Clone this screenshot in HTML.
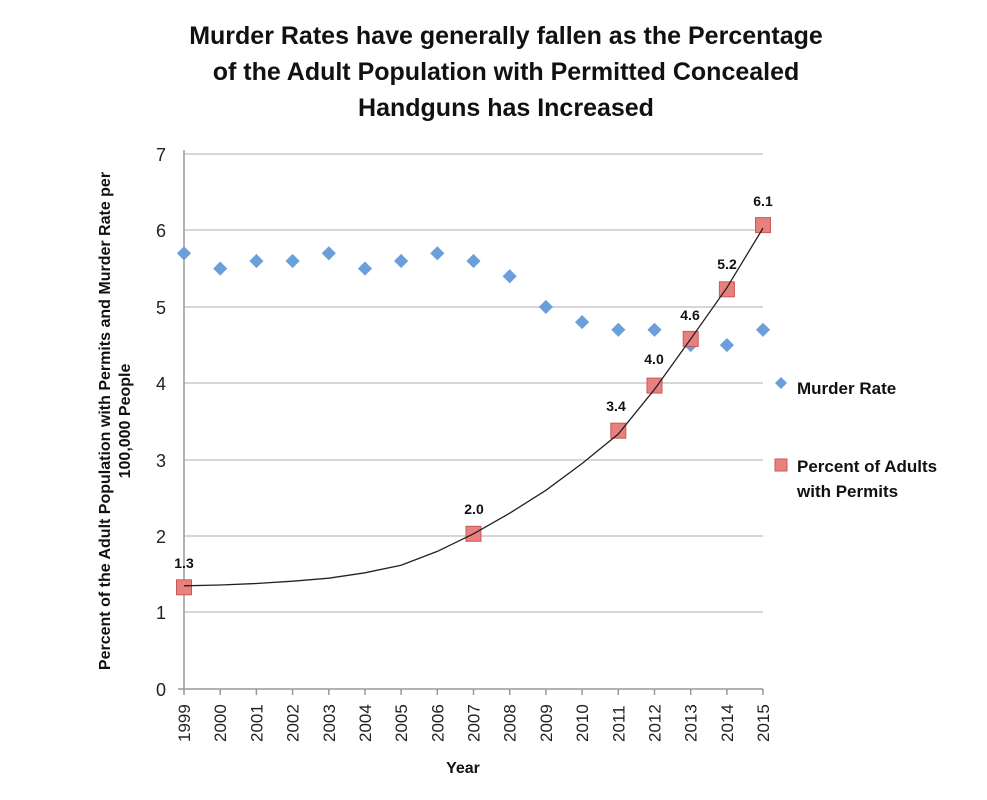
<!DOCTYPE html>
<html><head><style>body{margin:0;background:#fff}svg{display:block}</style></head><body>
<svg width="987" height="800" xmlns="http://www.w3.org/2000/svg" font-family="Liberation Sans, sans-serif">
<defs><rect id="dm" x="-5" y="-5" width="10" height="10" transform="rotate(45)" fill="#6a9fdb"/>
<rect id="sq" x="-7.5" y="-7.5" width="15" height="15" fill="#e8817e" stroke="#c85a58" stroke-width="1"/></defs>
<g font-weight="bold" font-size="25" text-anchor="middle" fill="#111">
<text x="506" y="44">Murder Rates have generally fallen as the Percentage</text>
<text x="506" y="80">of the Adult Population with Permitted Concealed</text>
<text x="506" y="116">Handguns has Increased</text>
</g>
<g stroke="#c8c8c8" stroke-width="1.5">
<line x1="184" y1="154" x2="763" y2="154"/><line x1="184" y1="230" x2="763" y2="230"/>
<line x1="184" y1="307" x2="763" y2="307"/><line x1="184" y1="383" x2="763" y2="383"/>
<line x1="184" y1="460" x2="763" y2="460"/><line x1="184" y1="536" x2="763" y2="536"/>
<line x1="184" y1="612" x2="763" y2="612"/>
</g>
<g stroke="#999" stroke-width="1.5">
<line x1="184" y1="150" x2="184" y2="695"/><line x1="178" y1="689" x2="763" y2="689"/>
<path d="M220.2 689v6M256.4 689v6M292.6 689v6M328.8 689v6M365 689v6M401.1 689v6M437.3 689v6M473.5 689v6M509.7 689v6M545.9 689v6M582.1 689v6M618.3 689v6M654.5 689v6M690.7 689v6M726.9 689v6M763 689v6"/>
</g>
<g font-size="18" fill="#222" text-anchor="end">
<text x="166" y="161">7</text><text x="166" y="237">6</text><text x="166" y="314">5</text>
<text x="166" y="390">4</text><text x="166" y="467">3</text><text x="166" y="543">2</text>
<text x="166" y="619">1</text><text x="166" y="696">0</text>
</g>
<g font-size="17" fill="#222">
<text transform="translate(190,742) rotate(-90)">1999</text>
<text transform="translate(226.2,742) rotate(-90)">2000</text>
<text transform="translate(262.4,742) rotate(-90)">2001</text>
<text transform="translate(298.6,742) rotate(-90)">2002</text>
<text transform="translate(334.8,742) rotate(-90)">2003</text>
<text transform="translate(371,742) rotate(-90)">2004</text>
<text transform="translate(407.1,742) rotate(-90)">2005</text>
<text transform="translate(443.3,742) rotate(-90)">2006</text>
<text transform="translate(479.5,742) rotate(-90)">2007</text>
<text transform="translate(515.7,742) rotate(-90)">2008</text>
<text transform="translate(551.9,742) rotate(-90)">2009</text>
<text transform="translate(588.1,742) rotate(-90)">2010</text>
<text transform="translate(624.3,742) rotate(-90)">2011</text>
<text transform="translate(660.5,742) rotate(-90)">2012</text>
<text transform="translate(696.7,742) rotate(-90)">2013</text>
<text transform="translate(732.9,742) rotate(-90)">2014</text>
<text transform="translate(769,742) rotate(-90)">2015</text>
</g>
<text x="463" y="773" font-size="16" font-weight="bold" text-anchor="middle" fill="#111">Year</text>
<g font-size="16" font-weight="bold" fill="#111" text-anchor="middle">
<text transform="translate(110,421) rotate(-90)">Percent of the Adult Population with Permits and Murder Rate per</text>
<text transform="translate(130,421) rotate(-90)">100,000 People</text>
</g>
<use href="#dm" x="184" y="253.3"/><use href="#dm" x="220.2" y="268.6"/><use href="#dm" x="256.4" y="261"/>
<use href="#dm" x="292.6" y="261"/><use href="#dm" x="328.8" y="253.3"/><use href="#dm" x="365" y="268.6"/>
<use href="#dm" x="401.1" y="261"/><use href="#dm" x="437.3" y="253.3"/><use href="#dm" x="473.5" y="261"/>
<use href="#dm" x="509.7" y="276.3"/><use href="#dm" x="545.9" y="306.9"/><use href="#dm" x="582.1" y="322.1"/>
<use href="#dm" x="618.3" y="329.8"/><use href="#dm" x="654.5" y="329.8"/><use href="#dm" x="690.7" y="345.1"/>
<use href="#dm" x="726.9" y="345.1"/><use href="#dm" x="763" y="329.8"/>
<use href="#sq" x="184" y="587.3"/><use href="#sq" x="473.5" y="533.8"/><use href="#sq" x="618.3" y="430.7"/>
<use href="#sq" x="654.5" y="385.6"/><use href="#sq" x="690.7" y="338.9"/><use href="#sq" x="726.9" y="289.3"/>
<use href="#sq" x="763" y="225.1"/>
<polyline fill="none" stroke="#222" stroke-width="1.3" points="184,585.8 220.2,585 256.4,583.5 292.6,581.2 328.8,578.2 365,572.8 401.1,565.2 437.3,551.4 473.5,533.8 509.7,513.2 545.9,490.3 582.1,463.5 618.3,434 654.5,389.4 690.7,339 726.9,287.7 763,228.1"/>
<g font-size="14" font-weight="bold" fill="#111" text-anchor="middle">
<text x="184" y="568">1.3</text><text x="474" y="514">2.0</text><text x="616" y="411">3.4</text>
<text x="654" y="364">4.0</text><text x="690" y="320">4.6</text><text x="727" y="269">5.2</text>
<text x="763" y="206">6.1</text>
</g>
<path d="M781 377 L787 383 L781 389 L775 383 Z" fill="#6a9fdb"/>
<text x="797" y="394" font-size="17" font-weight="bold" fill="#111">Murder Rate</text>
<rect x="775" y="459" width="12" height="12" fill="#e8817e" stroke="#c85a58"/>
<text x="797" y="472" font-size="17" font-weight="bold" fill="#111">Percent of Adults</text>
<text x="797" y="497" font-size="17" font-weight="bold" fill="#111">with Permits</text>
</svg>
</body></html>
